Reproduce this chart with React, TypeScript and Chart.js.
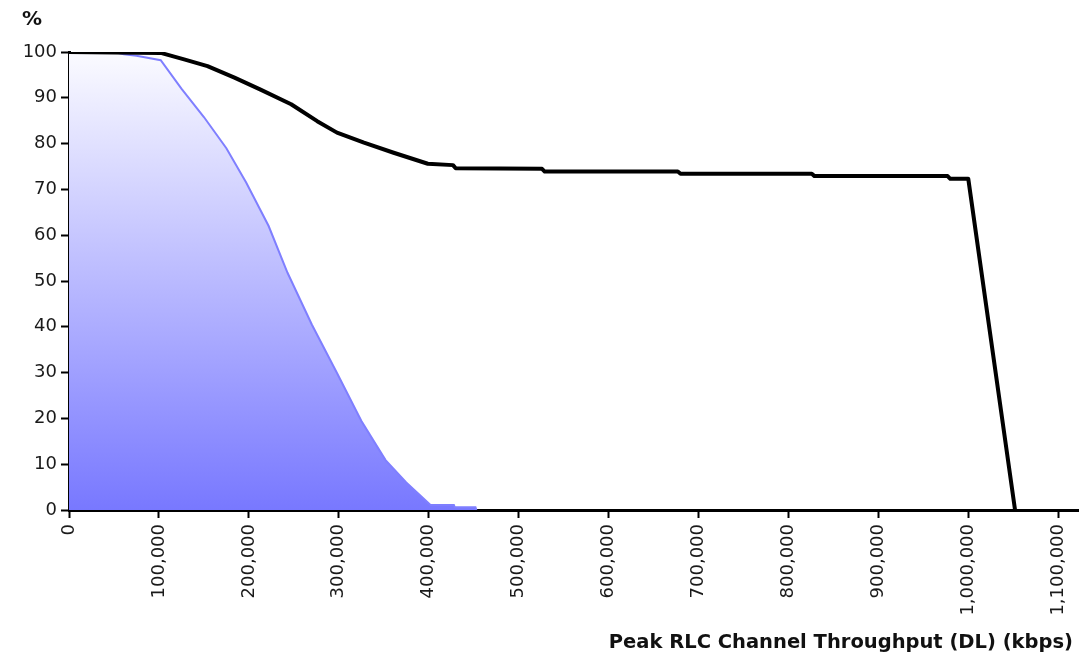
import React, { useEffect, useRef } from "react";
import { Chart, registerables } from "chart.js";

Chart.register(...registerables);

// Black series: cumulative % vs peak RLC throughput (kbps)
const blackX = [0, 102000, 128000, 154000, 184000, 213000, 247000, 276000, 298000, 328000, 361000, 399000, 427000, 430000, 526000, 529000, 677000, 680000, 826000, 829000, 977000, 980000, 1000000, 1052000];
const blackY = [100, 99.8, 98.4, 96.9, 94.4, 91.8, 88.6, 84.9, 82.4, 80.2, 78.0, 75.6, 75.3, 74.6, 74.5, 73.9, 73.9, 73.4, 73.4, 72.9, 72.9, 72.3, 72.3, 0];

// Blue filled series
const blueX = [0, 50000, 61000, 75000, 102000, 125000, 150000, 175000, 197000, 222000, 243000, 270000, 298000, 325000, 352000, 375000, 402000, 428000, 429000, 452000, 453000];
const blueY = [100, 100, 99.5, 99.2, 98.2, 92.0, 85.8, 79.0, 71.5, 62.0, 51.8, 40.5, 29.9, 19.5, 10.9, 6.0, 1.1, 1.1, 0.6, 0.6, 0];

const yTicks = [0, 10, 20, 30, 40, 50, 60, 70, 80, 90, 100];
const xTicks = [0, 100000, 200000, 300000, 400000, 500000, 600000, 700000, 800000, 900000, 1000000, 1100000];
const xAxisTitle = "Peak RLC Channel Throughput (DL) (kbps)";
const yAxisTitle = "%";

const toPoints = (xs: number[], ys: number[]) => xs.map((x, i) => ({ x, y: ys[i] }));

const textPlugin = {
  id: "axisTexts",
  afterDraw(chart: any) {
    const ctx = chart.ctx;
    ctx.save();
    ctx.fillStyle = "#111";
    ctx.textBaseline = "alphabetic";
    ctx.font = "bold 20px 'DejaVu Sans'";
    ctx.textAlign = "left";
    ctx.fillText(yAxisTitle, 22, 25);
    ctx.font = "bold 19.5px 'DejaVu Sans'";
    ctx.textAlign = "right";
    ctx.fillText(xAxisTitle, 1073, 648);
    ctx.restore();
  },
};

export default function App() {
  const ref = useRef<HTMLCanvasElement | null>(null);
  useEffect(() => {
    if (!ref.current) return;
    const chart = new Chart(ref.current, {
      type: "line",
      data: {
        datasets: [
          {
            label: "Black",
            data: toPoints(blackX, blackY),
            borderColor: "#000000",
            borderWidth: 4,
            pointRadius: 0,
            fill: false,
            tension: 0,
            borderJoinStyle: "round",
          },
          {
            label: "Blue",
            data: toPoints(blueX, blueY),
            borderColor: "#7f7fff",
            borderWidth: 2,
            pointRadius: 0,
            tension: 0,
            fill: "origin",
            backgroundColor: (c: any) => {
              const area = c.chart.chartArea;
              if (!area) return "rgba(128,128,255,0.5)";
              const g = c.chart.ctx.createLinearGradient(0, area.top, 0, area.bottom);
              g.addColorStop(0, "#fbfbff");
              g.addColorStop(1, "#7878ff");
              return g;
            },
          },
        ],
      },
      options: {
        responsive: false,
        animation: false,
        devicePixelRatio: 1,
        layout: { padding: { top: 52, right: 11, left: 0, bottom: 0 } },
        plugins: { legend: { display: false }, tooltip: { enabled: false } },
        scales: {
          x: {
            type: "linear",
            min: 0,
            max: 1122000,
            afterFit: (s: any) => { s.height = 155; },
            afterBuildTicks: (s: any) => { s.ticks = xTicks.map((v) => ({ value: v })); },
            border: { color: "#000", width: 3 },
            grid: { drawOnChartArea: false, drawTicks: true, tickLength: 8, tickColor: "#000", tickWidth: 2 },
            ticks: {
              minRotation: 90,
              maxRotation: 90,
              padding: 6,
              color: "#1a1a1a",
              font: { family: "'DejaVu Sans'", size: 18 },
              callback: (v: any) => Number(v).toLocaleString("en-US"),
            },
          },
          y: {
            min: 0,
            max: 100,
            afterFit: (s: any) => { s.width = 69; },
            afterBuildTicks: (s: any) => { s.ticks = yTicks.map((v) => ({ value: v })); },
            border: { color: "#000", width: 3 },
            grid: { drawOnChartArea: false, drawTicks: true, tickLength: 8, tickColor: "#000", tickWidth: 2 },
            ticks: {
              padding: 4,
              color: "#1a1a1a",
              font: { family: "'DejaVu Sans'", size: 18 },
            },
          },
        },
      },
      plugins: [textPlugin],
    });
    return () => chart.destroy();
  }, []);
  return (
    <div style={{ position: "fixed", left: 0, top: 0, width: 1089, height: 665, background: "#fff" }}>
      <canvas ref={ref} width={1089} height={665} />
    </div>
  );
}
